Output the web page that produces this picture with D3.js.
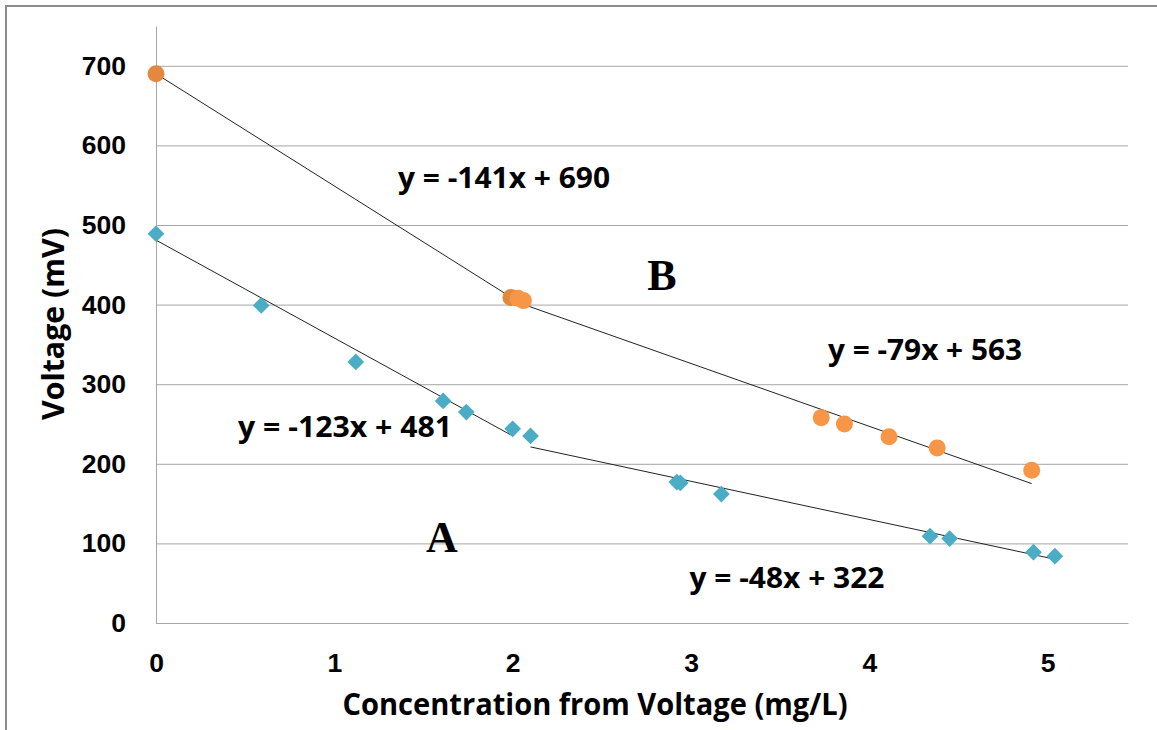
<!DOCTYPE html>
<html lang="en">
<head>
<meta charset="UTF-8">
<title>Voltage vs Concentration</title>
<script src="https://cdn.jsdelivr.net/npm/d3@7"></script>
<style>
    body { margin: 0; background: #fff; }
    svg { display: block; font-family: "Open Sans", "DejaVu Sans", sans-serif; }
    .tick text { font-weight: bold; fill: #000; }
    .eq { font-weight: bold; font-size: 28px; fill: #000; }
    .big { font-family: "Liberation Serif", "Times New Roman", serif; font-weight: bold; font-size: 44px; }
</style>
</head>
<body>
<div id="chart"></div>
<script>
// Series A (blue diamonds), split in two fitted segments
const xA1 = [0, 0.59, 1.12, 1.61, 1.74, 2.0];
const yA1 = [489, 399, 328, 279, 265, 244];
const xA2 = [2.10, 2.92, 2.94, 3.17, 4.34, 4.45, 4.92, 5.04];
const yA2 = [235, 177, 176, 162, 109, 106, 89, 84];

// Series B (orange circles)
const xB1 = [0, 1.99];
const yB1 = [690, 409];
const xB2 = [2.03, 2.06, 3.73, 3.86, 4.11, 4.38, 4.91];
const yB2 = [408, 405, 258, 250, 234, 220, 192];

// trendline equations as printed on the chart
const slopes = { A1: -123, A2: -48, B1: -141, B2: -79 };
const intercepts = { A1: 481, A2: 322, B1: 690, B2: 563 };

const yTicks = [0, 100, 200, 300, 400, 500, 600, 700];
const xTicks = [0, 1, 2, 3, 4, 5];

const width = 1157, height = 730;
const plotLeft = 156, plotRight = 1128, plotTop = 26, plotBottom = 623;

const svg = d3.select("#chart").append("svg")
    .attr("width", width)
    .attr("height", height);

// outer chart border (chart continues past the crop)
svg.append("rect")
    .attr("x", 6).attr("y", 6)
    .attr("width", 1300).attr("height", 900)
    .attr("fill", "none")
    .attr("stroke", "#8c8c8c")
    .attr("stroke-width", 2);

const x = d3.scaleLinear().domain([0, 5.45]).range([plotLeft, plotRight]);
const y = d3.scaleLinear().domain([0, 750]).range([plotBottom, plotTop]);

// horizontal gridlines
svg.append("g")
    .attr("transform", `translate(${plotLeft},0)`)
    .call(d3.axisLeft(y).tickValues(yTicks).tickSize(-(plotRight - plotLeft)).tickFormat(""))
    .call(g => g.select(".domain").remove())
    .selectAll("line").attr("stroke", "#a6a6a6");

// y axis
svg.append("g")
    .attr("transform", `translate(${plotLeft},0)`)
    .call(d3.axisLeft(y).tickValues(yTicks).tickSize(0).tickPadding(30))
    .call(g => g.select(".domain").attr("stroke", "#a6a6a6"))
    .selectAll("text").style("font-size", "26.5px");

// x axis
svg.append("g")
    .attr("transform", `translate(0,${plotBottom})`)
    .call(d3.axisBottom(x).tickValues(xTicks).tickFormat(d3.format("d")).tickSize(0).tickPadding(30))
    .call(g => g.select(".domain").attr("stroke", "#a6a6a6"))
    .selectAll("text").style("font-size", "26.5px");

// axis titles
svg.append("text")
    .attr("x", 595).attr("y", 715)
    .attr("text-anchor", "middle")
    .attr("textLength", 505)
    .attr("lengthAdjust", "spacingAndGlyphs")
    .style("font-size", "31px").style("font-weight", "bold")
    .text("Concentration from Voltage (mg/L)");

svg.append("text")
    .attr("transform", "translate(64,324) rotate(-90)")
    .attr("text-anchor", "middle")
    .attr("textLength", 192)
    .attr("lengthAdjust", "spacingAndGlyphs")
    .style("font-size", "30px").style("font-weight", "bold")
    .text("Voltage (mV)");

// trendlines over each segment's x range
const segs = [
    ["A1", xA1], ["A2", xA2], ["B1", xB1], ["B2", xB2]
];
segs.forEach(([k, xs]) => {
    const x0 = d3.min(xs), x1 = d3.max(xs);
    svg.append("line")
        .attr("x1", x(x0)).attr("y1", y(slopes[k] * x0 + intercepts[k]))
        .attr("x2", x(x1)).attr("y2", y(slopes[k] * x1 + intercepts[k]))
        .attr("stroke", "#222")
        .attr("stroke-width", 1);
});

// diamonds
const diamond = d3.symbol().type(d3.symbolSquare).size(140);
const ptsA = xA1.map((v, i) => [v, yA1[i]]).concat(xA2.map((v, i) => [v, yA2[i]]));
svg.append("g").selectAll("path")
    .data(ptsA)
    .enter().append("path")
    .attr("d", diamond)
    .attr("transform", d => `translate(${x(d[0])},${y(d[1])}) rotate(45)`)
    .attr("fill", "#4bacc6");

// circles
svg.append("g").selectAll("circle")
    .data(xB1.map((v, i) => [v, yB1[i]]))
    .enter().append("circle")
    .attr("cx", d => x(d[0])).attr("cy", d => y(d[1]))
    .attr("r", 8.5)
    .attr("fill", "#e3883d");

svg.append("g").selectAll("circle")
    .data(xB2.map((v, i) => [v, yB2[i]]))
    .enter().append("circle")
    .attr("cx", d => x(d[0])).attr("cy", d => y(d[1]))
    .attr("r", 8.5)
    .attr("fill", "#f79646");

// equation labels
const eqs = [
    { t: "y = -141x + 690", cx: 504, by: 188, w: 212 },
    { t: "y = -79x + 563", cx: 925, by: 360, w: 194 },
    { t: "y = -123x + 481", cx: 345, by: 437, w: 214 },
    { t: "y = -48x + 322", cx: 787, by: 588, w: 195 }
];
svg.append("g").selectAll("text")
    .data(eqs)
    .enter().append("text")
    .attr("class", "eq")
    .attr("x", d => d.cx).attr("y", d => d.by)
    .attr("text-anchor", "middle")
    .attr("textLength", d => d.w)
    .attr("lengthAdjust", "spacingAndGlyphs")
    .text(d => d.t);

svg.append("text").attr("class", "big")
    .attr("x", 662).attr("y", 290).attr("text-anchor", "middle").text("B");
svg.append("text").attr("class", "big")
    .attr("x", 442).attr("y", 552).attr("text-anchor", "middle").text("A");
</script>
</body>
</html>
